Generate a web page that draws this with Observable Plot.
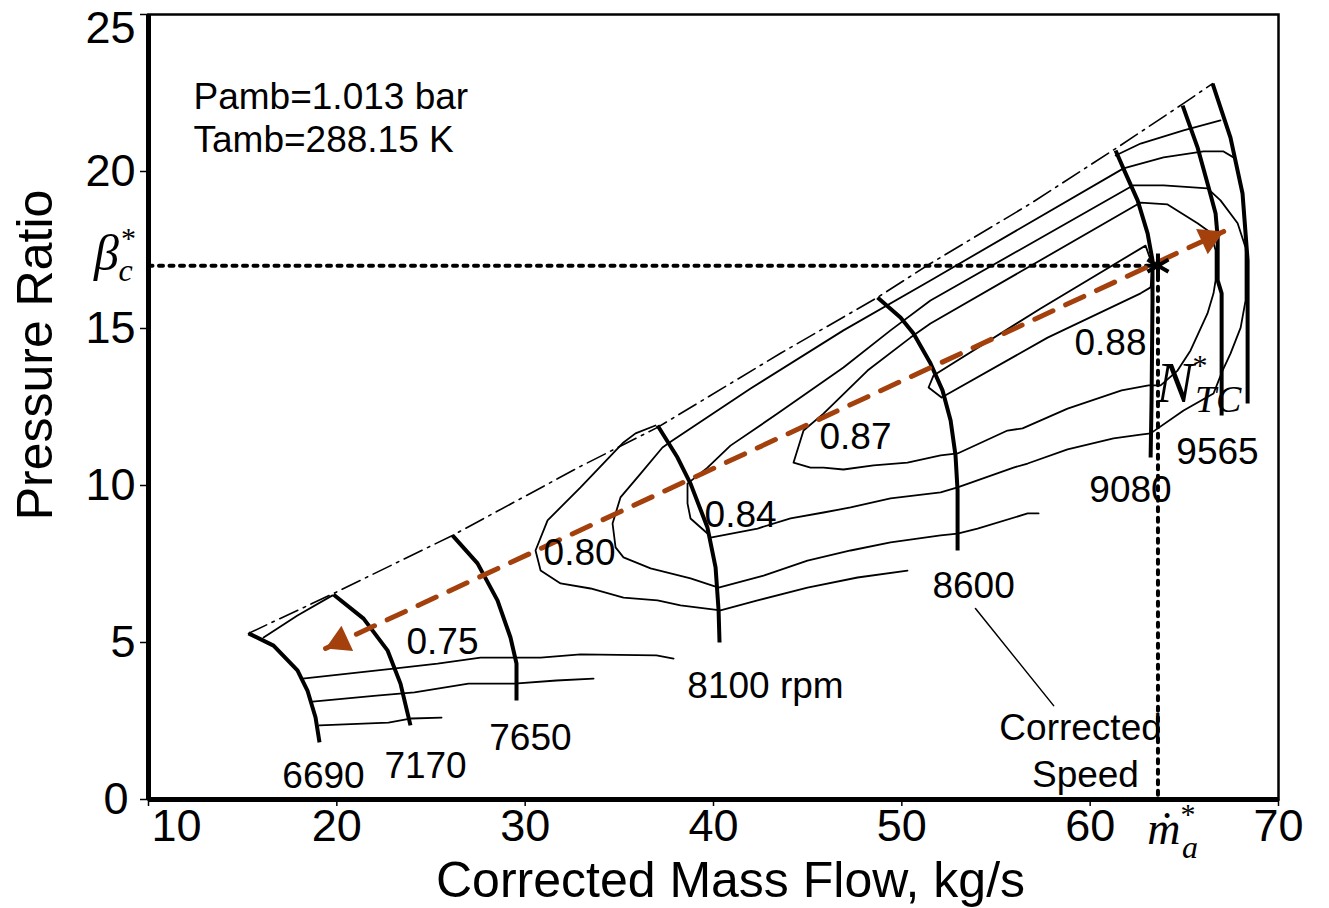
<!DOCTYPE html>
<html><head><meta charset="utf-8">
<script src="https://cdn.jsdelivr.net/npm/d3@7"></script>
<script src="https://cdn.jsdelivr.net/npm/@observablehq/plot@0.6"></script>
<style>html,body{margin:0;padding:0;background:#fff;}</style>
</head><body><div id="chart"></div>
<script>
// ---------------- data (corrected mass flow kg/s, pressure ratio) ----------------
const xTicks = [10, 20, 30, 40, 50, 60, 70];
const yTicks = [0, 5, 10, 15, 20, 25];
const xTitle = "Corrected Mass Flow, kg/s";
const yTitle = "Pressure Ratio";
const conditions = ["Pamb=1.013 bar", "Tamb=288.15 K"];
const conditionsY = [22.36, 20.99];
const conditionsX = 12.39;

// design point
const designFlow = 63.6;
const designPR = 17.0;

// surge line
const surge = [[15.31,5.29],[19.82,6.56],[26.14,8.41],[32.94,10.61],[37.03,11.85],[43.56,14.21],[48.71,15.99],[51.52,17.07],[56.84,18.98],[61.61,20.83],[64.96,22.17],[66.50,22.80]];

// corrected speed lines
const speedNames = ["6690", "7170", "7650", "8100 rpm", "8600", "9080", "9565"];
const s6690 = [[15.31,5.29],[16.64,4.90],[17.91,4.11],[18.44,3.47],[18.87,2.61],[19.08,1.82]];
const s7170 = [[19.82,6.53],[21.42,5.76],[22.69,4.75],[23.38,3.69],[23.91,2.36]];
const s7650 = [[26.14,8.41],[27.47,7.52],[28.53,6.34],[29.22,5.16],[29.54,4.33],[29.54,3.15]];
const s8100 = [[37.03,11.91],[38.09,10.89],[38.78,10.06],[39.68,8.66],[40.11,7.39],[40.27,6.02],[40.32,5.00]];
const s8600 = [[48.71,15.99],[49.93,15.35],[50.62,14.84],[51.52,13.89],[52.16,13.03],[52.59,12.07],[52.85,10.96],[52.96,9.84],[52.96,7.93]];
const s9080 = [[61.35,20.67],[61.88,19.94],[62.52,19.08],[63.05,18.03],[63.31,17.17],[63.31,15.89],[63.26,12.71],[63.21,10.89]];
const s9565 = [[64.91,22.10],[65.70,20.77],[66.29,19.49],[66.66,18.66],[66.77,17.90],[66.77,16.53],[66.98,16.12],[66.98,12.23]];
const sMax = [[66.50,22.80],[67.45,21.08],[68.09,19.30],[68.36,17.17],[68.36,12.61]];
const speedLabelX = [19.29, 24.71, 30.28, 42.76, 53.81, 62.14, 66.76];
const speedLabelY = [0.73, 1.05, 1.94, 3.60, 6.78, 9.84, 11.05];

// efficiency contours
const effNames = ["0.75", "0.80", "0.84", "0.87", "0.88"];
const effLabelX = [25.61, 32.89, 41.44, 47.54, 61.08];
const effLabelY = [5.00, 7.83, 9.05, 11.53, 14.52];
const e75top = [[16.11,5.16],[17.91,5.86],[19.77,6.50]];
const e75a = [[18.18,3.85],[23.01,4.17],[25.35,4.33],[27.63,4.52],[30.82,4.52],[32.94,4.62],[36.97,4.59],[37.88,4.49]];
const e75b = [[18.71,3.12],[22.11,3.31],[24.12,3.41],[26.99,3.69],[29.43,3.69],[31.66,3.79],[33.63,3.85]];
const e75c = [[19.08,2.36],[22.74,2.45],[23.97,2.58],[25.56,2.61]];
const e80 = [[50.30,7.29],[47.65,7.07],[44.99,6.75],[42.34,6.34],[40.37,6.02],[38.25,6.18],[37.03,6.34],[35.22,6.43],[33.47,6.72],[31.88,6.88],[30.82,7.29],[30.55,7.93],[31.19,8.89],[32.94,9.94],[35.22,11.37],[35.86,11.66],[36.92,11.91]];
const e80top = [[61.35,20.51],[62.68,20.89],[64.96,21.31],[66.92,21.63]];
const e82 = [[57.26,9.11],[56.68,9.11],[54.02,8.63],[52.96,8.47],[52.06,8.41],[49.40,8.19],[47.28,7.93],[44.99,7.61],[42.66,7.13],[40.27,6.75],[38.78,7.04],[36.66,7.36],[35.22,7.71],[34.80,8.03],[34.64,8.79],[35.06,9.62],[36.13,10.38],[37.29,11.21],[37.82,11.43],[41.97,13.09],[46.90,14.94],[51.52,16.53],[61.77,20.10],[63.90,20.45],[66.02,20.64],[67.08,20.64],[67.61,20.45]];
const e84 = [[38.62,10.06],[39.68,10.57],[40.90,11.27],[43.40,12.29],[46.90,13.76],[49.40,14.94],[51.52,15.89],[61.99,19.46],[62.30,19.56],[63.90,19.56],[66.23,19.46],[66.92,19.08],[67.83,18.35],[68.25,17.58],[68.25,15.89],[67.99,15.03],[67.45,14.20],[67.03,13.66],[66.55,12.93],[64.96,12.39],[63.21,11.66],[62.68,11.62],[61.24,11.50],[58.80,11.15],[56.68,10.70],[55.93,10.57],[52.96,9.94],[52.06,9.78],[49.40,9.59],[47.28,9.30],[45.84,9.14],[44.09,8.95],[42.34,8.63],[39.84,8.34],[39.68,8.47],[38.78,8.95],[38.62,9.43]];
const e87 = [[44.25,10.73],[44.78,11.75],[45.84,12.29],[48.18,13.66],[50.46,14.71],[51.52,15.16],[62.68,19.01],[64.11,18.95],[65.70,18.35],[66.39,18.06],[66.66,17.49],[66.66,16.53],[66.55,16.12],[66.23,15.48],[65.33,14.30],[64.64,13.66],[63.74,13.19],[63.10,13.19],[61.67,13.03],[58.80,12.45],[56.41,11.82],[55.61,11.75],[52.96,11.02],[52.06,10.96],[50.30,10.73],[48.50,10.64],[46.90,10.51],[45.84,10.57],[45.15,10.57]];
const e88 = [[52.11,12.80],[51.42,13.12],[51.68,13.50],[57.37,15.64],[62.94,17.64],[63.31,17.01],[63.21,16.31],[62.68,16.12],[57.74,14.71]];

// operating-line arrow (double headed) and "Corrected Speed" callout
const arrowEnds = [[19.40,4.81],[67.09,18.09]];
const callout = [[53.91,6.08],[58.06,2.99]];
const calloutText = ["Corrected", "Speed"];
const calloutX = [59.49, 59.75];
const calloutY = [2.26, 0.76];

// ---------------- layout ----------------
const W = 1329, H = 908, ML = 148, MR = 51, MT = 14, MB = 109;
const kx = (W - ML - MR) / (xTicks[6] - xTicks[0]);
const ky = (H - MT - MB) / (yTicks[5] - yTicks[0]);
const RED = "#a3400c";
const SANS = "'Liberation Sans', Arial, sans-serif";
const SERIF = "'Liberation Serif', 'DejaVu Serif', serif";

function head(tip, tail, back) {
  const sx = (tip[0] - tail[0]) * kx, sy = -(tip[1] - tail[1]) * ky;
  const len = Math.hypot(sx, sy);
  return {x: tip[0] - (tip[0] - tail[0]) * back / len,
          y: tip[1] - (tip[1] - tail[1]) * back / len,
          rotate: Math.atan2(sy, sx) * 180 / Math.PI + 90};
}
const heads = [head(arrowEnds[1], arrowEnds[0], 16), head(arrowEnds[0], arrowEnds[1], 16)];

const L = (data, o) => Plot.line(data, {x: d => d[0], y: d => d[1], ...o});
const thin = {stroke: "black", strokeWidth: 1.8, strokeLinejoin: "round"};
const thick = {stroke: "black", strokeWidth: 4, strokeLinejoin: "round", strokeLinecap: "butt"};
const closed = {...thin, curve: "linear-closed"};
const dotted = {stroke: "black", strokeWidth: 4, strokeDasharray: "4,6.5"};
const T = (arr, o) => Plot.text(arr, {text: d => d, fontFamily: SANS, fill: "black", ...o});
const M = (s, x, y, o) => Plot.text([s], {x, y, text: d => d, fontFamily: SERIF, fill: "black", ...o});

const speedLabels = speedNames.map((t, i) => ({t, x: speedLabelX[i], y: speedLabelY[i]}));
const effLabels = effNames.map((t, i) => ({t, x: effLabelX[i], y: effLabelY[i]}));
const calloutLabels = calloutText.map((t, i) => ({t, x: calloutX[i], y: calloutY[i]}));
const condLabels = conditions.map((t, i) => ({t, x: conditionsX, y: conditionsY[i]}));

const chart = Plot.plot({
  width: W, height: H,
  marginLeft: ML, marginRight: MR, marginTop: MT, marginBottom: MB,
  style: {fontFamily: SANS, background: "white", color: "black"},
  x: {domain: [xTicks[0], xTicks[6]]},
  y: {domain: [yTicks[0], yTicks[5]]},
  marks: [
    // efficiency contours
    L(e75top, thin), L(e75a, thin), L(e75b, thin), L(e75c, thin),
    L(e80, thin), L(e80top, thin), L(e82, thin),
    L(e84, closed), L(e87, closed), L(e88, closed),
    // speed lines
    L(s6690, thick), L(s7170, thick), L(s7650, thick), L(s8100, thick),
    L(s8600, thick), L(s9080, thick), L(s9565, thick), L(sMax, thick),
    // surge line
    L(surge, {stroke: "black", strokeWidth: 1.6, strokeDasharray: "20,6,2.5,6"}),
    // design point guides
    L([[xTicks[0], designPR], [designFlow, designPR]], dotted),
    L([[designFlow, designPR], [designFlow, yTicks[0]]], dotted),
    // operating arrow
    L(arrowEnds, {stroke: RED, strokeWidth: 5, strokeDasharray: "20,14"}),
    Plot.dot(heads, {x: "x", y: "y", rotate: "rotate", symbol: "triangle", r: 10.3, fill: RED, stroke: "none"}),
    Plot.dot([[designFlow, designPR]], {x: d => d[0], y: d => d[1], symbol: "asterisk", r: 11.5, stroke: "black", strokeWidth: 4}),
    // callout
    L(callout, {stroke: "black", strokeWidth: 1.5}),
    // labels
    T(speedLabels, {x: "x", y: "y", text: "t", fontSize: 37}),
    T(effLabels, {x: "x", y: "y", text: "t", fontSize: 37}),
    T(calloutLabels, {x: "x", y: "y", text: "t", fontSize: 37}),
    T(condLabels, {x: "x", y: "y", text: "t", fontSize: 37, textAnchor: "start"}),
    // math symbols
    M("β", xTicks[0], designPR, {fontStyle: "italic", fontSize: 50, dx: -42, dy: -12}),
    M("c", xTicks[0], designPR, {fontStyle: "italic", fontSize: 32, dx: -23, dy: 5}),
    M("*", xTicks[0], designPR, {fontSize: 30, dx: -20, dy: -27}),
    M("ṁ", designFlow, yTicks[0], {fontStyle: "italic", fontSize: 46, dx: 6, dy: 30}),
    M("a", designFlow, yTicks[0], {fontStyle: "italic", fontSize: 32, dx: 32, dy: 48}),
    M("*", designFlow, yTicks[0], {fontSize: 30, dx: 30, dy: 15}),
    M("N", designFlow, designPR, {fontStyle: "italic", fontSize: 56, dx: 17, dy: 118}),
    M("TC", designFlow, designPR, {fontStyle: "italic", fontSize: 38, textAnchor: "start", dx: 37, dy: 134}),
    M("*", designFlow, designPR, {fontSize: 30, dx: 42, dy: 100}),
    // axes
    Plot.axisX({ticks: xTicks, tickSize: 7, tickPadding: 3, fontSize: 45, label: null, strokeWidth: 1.5, tickFormat: d => d === xTicks[0] ? "" : String(d)}),
    Plot.axisX({ticks: [xTicks[0]], tickSize: 0, tickPadding: 10, fontSize: 45, label: null, dx: 28, tickFormat: d => String(d)}),
    Plot.axisY({ticks: yTicks, tickSize: 8, tickPadding: 5, fontSize: 45, label: null, strokeWidth: 1.5, tickFormat: d => (d === yTicks[0] || d === yTicks[5]) ? "" : String(d)}),
    Plot.axisY({ticks: [yTicks[0]], tickSize: 0, tickPadding: 20, fontSize: 45, label: null, tickFormat: d => String(d)}),
    Plot.axisY({ticks: [yTicks[5]], tickSize: 0, tickPadding: 13, fontSize: 45, label: null, dy: 14, tickFormat: d => String(d)}),
    Plot.text([xTitle], {frameAnchor: "bottom", lineAnchor: "middle", textAnchor: "middle", text: d => d, fontSize: 50, dx: 17, dy: 81}),
    Plot.text([yTitle], {frameAnchor: "left", lineAnchor: "middle", textAnchor: "middle", text: d => d, fontSize: 50, rotate: -90, dx: -113, dy: -52}),
    Plot.frame({stroke: "black", strokeWidth: 2.5}),
    Plot.ruleY([yTicks[0]], {stroke: "black", strokeWidth: 5}),
    Plot.ruleX([xTicks[0]], {stroke: "black", strokeWidth: 5})
  ]
});
document.getElementById("chart").appendChild(chart);
</script>
</body></html>
